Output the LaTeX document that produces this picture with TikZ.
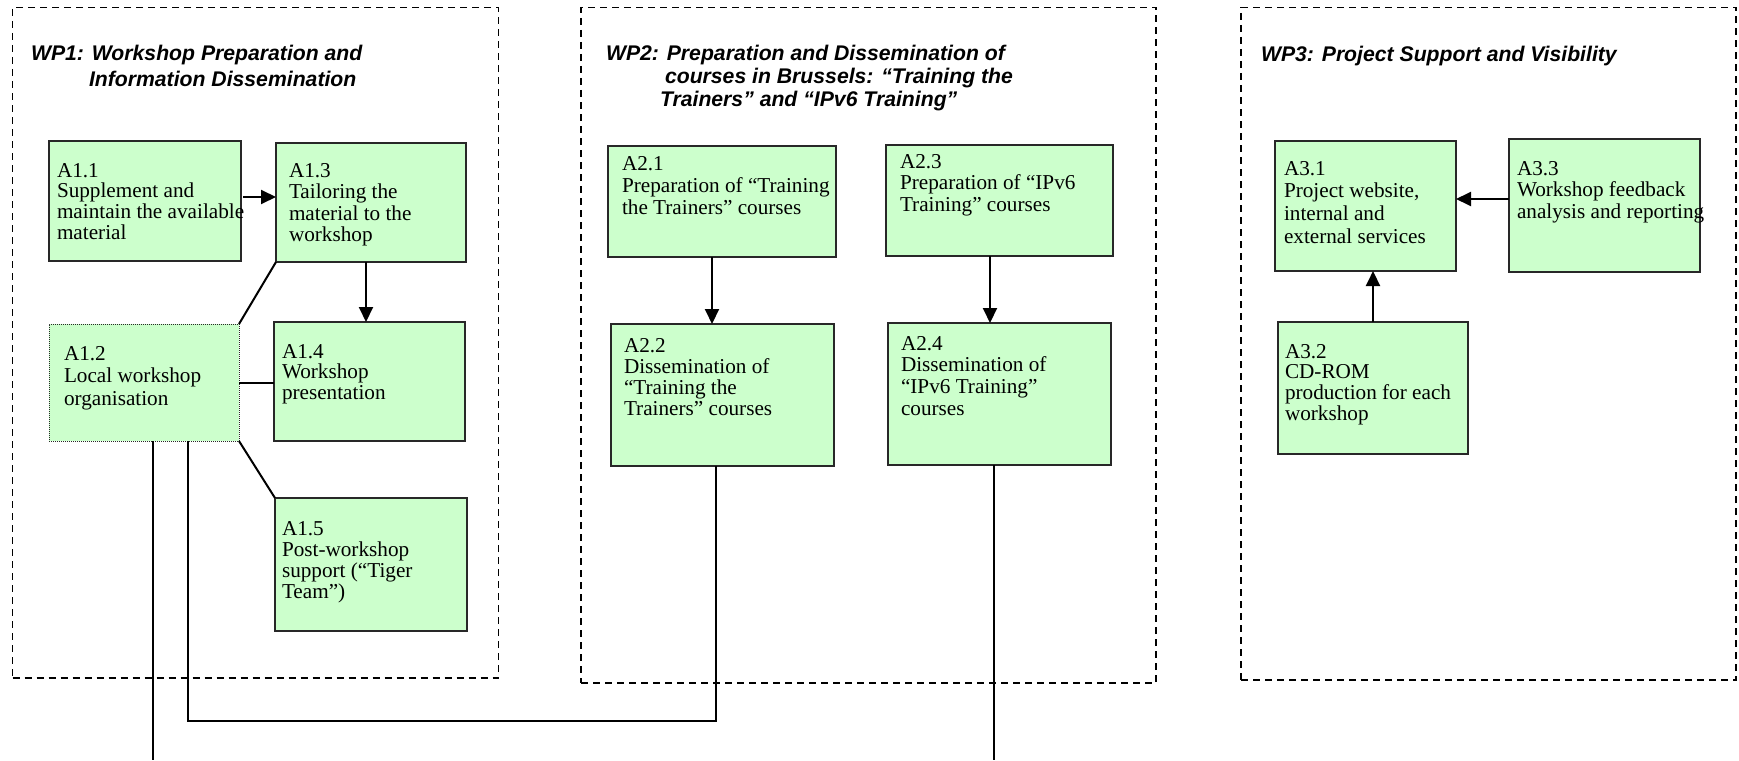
\documentclass[tikz,border=0pt]{standalone}
\usepackage{fontspec}
\setmainfont{Liberation Serif}
\newfontfamily\titlefont{Liberation Sans}
\usetikzlibrary{arrows.meta,fit}
\definecolor{boxgreen}{RGB}{204,255,204}
\definecolor{boxline}{RGB}{40,40,40}
\newcommand\boxtext[2]{{\fontsize{21.2pt}{#1}\selectfont\begin{tabular}[t]{@{}l@{}}#2\end{tabular}}}
\newcommand\wptitle[2]{{\titlefont\bfseries\itshape\fontsize{21.2pt}{#1}\selectfont\begin{tabular}[t]{@{}l@{}}#2\end{tabular}}}
\begin{document}
\begin{tikzpicture}[x=1pt,y=-1pt,
  wpbox/.style={draw=black, line width=1.8pt, dash pattern=on 7pt off 5pt, inner sep=0pt, outer sep=0pt},
  abox/.style={draw=boxline, fill=boxgreen, line width=1.3pt, inner sep=0pt, outer sep=0pt},
  dotbox/.style={abox, dash pattern=on 1pt off 1pt, line width=1pt},
  txt/.style={anchor=base west, inner sep=0pt, outer sep=0pt},
  conn/.style={draw=black, line width=2pt},
  arr/.style={conn, -{Triangle[length=15pt,width=14pt]}},
]
\useasboundingbox (0,0) rectangle (1739,760);

% work packages
\node[wpbox, fit={(12.5,7.5) (498.5,678)}] (wp1) {};
\node[wpbox, fit={(581,7.5) (1156,683)}] (wp2) {};
\node[wpbox, fit={(1241,7.5) (1736,680)}] (wp3) {};

\node[txt] (wp1t) at (31,60) {\wptitle{26pt}{WP1: Workshop Preparation and\\\hspace*{58pt}Information Dissemination}};
\node[txt] (wp2t) at (606,60) {\wptitle{23pt}{WP2: Preparation and Dissemination of\\\hspace*{59pt}courses in Brussels: “Training the\\\hspace*{54pt}Trainers” and “IPv6 Training”}};
\node[txt] (wp3t) at (1261,62) {\wptitle{23pt}{WP3: Project Support and Visibility}};

% activity boxes
\node[abox, fit={(49,141) (241,261)}] (a11) {};
\node[abox, fit={(276,143) (466,262)}] (a13) {};
\node[dotbox, fit={(49,324) (239,441)}] (a12) {};
\node[abox, fit={(274,322) (465,441)}] (a14) {};
\node[abox, fit={(275,498) (467,631)}] (a15) {};
\node[abox, fit={(608,146) (836,257)}] (a21) {};
\node[abox, fit={(886,145) (1113,256)}] (a23) {};
\node[abox, fit={(611,324) (834,466)}] (a22) {};
\node[abox, fit={(888,323) (1111,465)}] (a24) {};
\node[abox, fit={(1275,141) (1456,271)}] (a31) {};
\node[abox, fit={(1509,139) (1700,272)}] (a33) {};
\node[abox, fit={(1278,322) (1468,454)}] (a32) {};

% texts
\node[txt] (a11t) at (57,177) {\boxtext{20.6pt}{A1.1\\Supplement and\\\mbox{maintain the available}\\material}};
\node[txt] (a13t) at (289,177) {\boxtext{21.5pt}{A1.3\\Tailoring the\\material to the\\workshop}};
\node[txt] (a12t) at (64,360) {\boxtext{22.5pt}{A1.2\\Local workshop\\organisation}};
\node[txt] (a14t) at (282,358) {\boxtext{20.5pt}{A1.4\\Workshop\\presentation}};
\node[txt] (a15t) at (282,535) {\boxtext{21pt}{A1.5\\Post-workshop\\support (“Tiger\\Team”)}};
\node[txt] (a21t) at (622,170) {\boxtext{22pt}{A2.1\\Preparation of “Training\\the Trainers” courses}};
\node[txt] (a23t) at (900,168) {\boxtext{21.5pt}{A2.3\\Preparation of “IPv6\\Training” courses}};
\node[txt] (a22t) at (624,352) {\boxtext{21.3pt}{A2.2\\Dissemination of\\“Training the\\Trainers” courses}};
\node[txt] (a24t) at (901,350) {\boxtext{21.7pt}{A2.4\\Dissemination of\\“IPv6 Training”\\courses}};
\node[txt] (a31t) at (1284,175) {\boxtext{22.7pt}{A3.1\\Project website,\\internal and\\external services}};
\node[txt] (a33t) at (1517,175) {\boxtext{21.5pt}{A3.3\\Workshop feedback\\\mbox{analysis and reporting}}};
\node[txt] (a32t) at (1285,358) {\boxtext{20.7pt}{A3.2\\CD-ROM\\production for each\\workshop}};

% connectors
\draw[arr] ([xshift=2pt,yshift=4pt]a11.east) -- ([yshift=4pt]a11.east -| a13.west);
\draw[arr] ([xshift=-5pt]a13.south) -- ([xshift=-5pt]a13.south |- a14.north);
\draw[conn] (a13.south west) -- (a12.north east);
\draw[conn] (a12.east) -- (a12.east -| a14.west);
\draw[conn] (a12.south east) -- (a15.north west);
\coordinate (e1) at ([xshift=9pt]a12.south |- 0,760);
\coordinate (e2) at ([xshift=-5.5pt]a24.south |- 0,760);
\draw[conn] ([xshift=9pt]a12.south) -- (e1);
\draw[conn] ([xshift=44pt]a12.south) -- ++(0,280) -| ([xshift=-6.5pt]a22.south);
\draw[conn] ([xshift=-5.5pt]a24.south) -- (e2);
\draw[arr] ([xshift=-10pt]a21.south) -- ([xshift=-10pt]a21.south |- a22.north);
\draw[arr] ([xshift=-9.5pt]a23.south) -- ([xshift=-9.5pt]a23.south |- a24.north);
\draw[arr] ([yshift=6.5pt]a33.west) -- ([yshift=6.5pt]a33.west -| a31.east);
\draw[arr] (a32.north) -- (a32.north |- a31.south);
\end{tikzpicture}
\end{document}
